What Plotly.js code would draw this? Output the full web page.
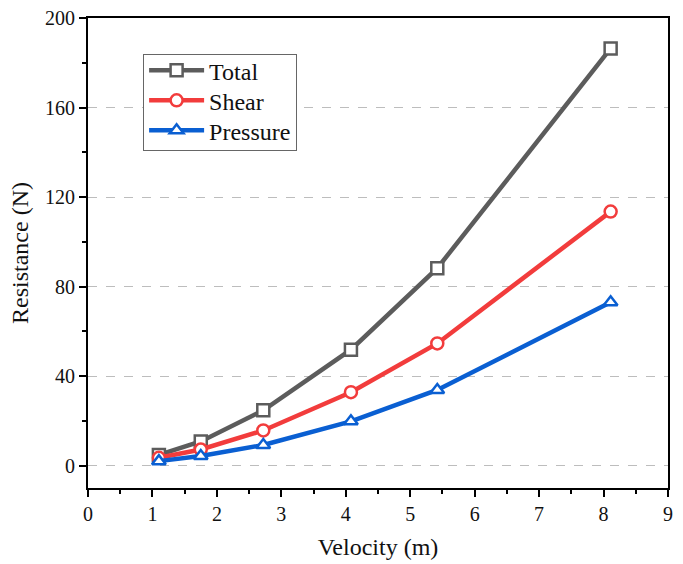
<!DOCTYPE html>
<html>
<head>
<meta charset="utf-8">
<script src="https://cdn.plot.ly/plotly-3.0.1.min.js"></script>
<style>html,body{margin:0;padding:0;background:#fff;}</style>
</head>
<body>
<div id="chart" style="width:683px;height:564px;"></div>
<script>
const velocity = [1.10, 1.75, 2.72, 4.08, 5.42, 8.11];
const totalRes = [4.8, 10.8, 24.7, 51.8, 88.2, 186.4];
const shearRes = [3.5, 7.2, 15.7, 32.8, 54.6, 113.5];
const pressureRes = [2.0, 4.3, 9.2, 19.8, 33.8, 73.0];
const seriesNames = ['Total', 'Shear', 'Pressure'];
const xTicks = [0,1,2,3,4,5,6,7,8,9];
const yTicks = [0,40,80,120,160,200];

const font = "Liberation Serif, Times New Roman, serif";
function tr(y, name, color, symbol) {
  return {
    x: velocity, y: y, name: name, type: 'scatter', mode: 'lines+markers',
    line: {color: color, width: 4.5},
    marker: {symbol: symbol, size: 12, color: '#ffffff', line: {color: color, width: 2.5}}
  };
}
const data = [
  tr(totalRes, seriesNames[0], '#5c5c5c', 'square'),
  tr(shearRes, seriesNames[1], '#f23c3c', 'circle'),
  tr(pressureRes, seriesNames[2], '#0a5fd2', 'triangle-up')
];

const layout = {
  width: 683, height: 564,
  margin: {l: 88, r: 15, t: 18, b: 76},
  paper_bgcolor: '#fff', plot_bgcolor: '#fff',
  font: {family: font, color: '#111', size: 20},
  showlegend: true,
  legend: {
    x: 0.095, y: 0.923, xanchor: 'left', yanchor: 'top',
    bordercolor: '#666', borderwidth: 1, bgcolor: '#fff',
    font: {family: font, size: 24, color: '#111'},
    itemwidth: 55, tracegroupgap: 0
  },
  xaxis: {
    range: [0, 9], tickvals: xTicks, ticktext: xTicks.map(String),
    showline: true, linecolor: '#000', linewidth: 2, mirror: true,
    ticks: 'outside', ticklen: 7, tickwidth: 2, tickcolor: '#000',
    showgrid: false, zeroline: false,
    tickfont: {family: font, size: 20},
    minor: {dtick: 0.5, ticks: 'outside', ticklen: 4, tickwidth: 2, tickcolor: '#000', showgrid: false},
    title: {text: 'Velocity (m)', font: {family: font, size: 24}, standoff: 14}
  },
  yaxis: {
    range: [-10, 200], tickvals: yTicks, ticktext: yTicks.map(String),
    showline: true, linecolor: '#000', linewidth: 2, mirror: true,
    ticks: 'outside', ticklen: 7, tickwidth: 2, tickcolor: '#000',
    showgrid: true, gridcolor: '#bdbdbd', gridwidth: 1, griddash: 'dash',
    zeroline: false,
    tickfont: {family: font, size: 20},
    minor: {dtick: 20, ticks: 'outside', ticklen: 4, tickwidth: 2, tickcolor: '#000', showgrid: false},
    title: {text: 'Resistance (N)', font: {family: font, size: 24}, standoff: 10}
  }
};
Plotly.newPlot('chart', data, layout, {displayModeBar: false, staticPlot: true}).then(function () {
  // tighten legend row spacing to match the reference (about 30 px per row)
  const rowGap = 30, lift = 7;
  const items = document.querySelectorAll('.legend .traces');
  if (!items.length) return;
  const m0 = /translate\(([-\d.]+),\s*([-\d.]+)\)/.exec(items[0].getAttribute('transform') || '');
  if (!m0) return;
  const x0 = parseFloat(m0[1]), y0 = parseFloat(m0[2]);
  let lastOld = y0;
  items.forEach(function (it, i) {
    const m = /translate\(([-\d.]+),\s*([-\d.]+)\)/.exec(it.getAttribute('transform') || '');
    if (m) lastOld = parseFloat(m[2]);
    it.setAttribute('transform', 'translate(' + x0 + ',' + (y0 - lift + i * rowGap) + ')');
  });
  const shrink = (lastOld - y0) - (items.length - 1) * rowGap;
  const bg = document.querySelector('.legend rect.bg');
  if (bg) {
    const h = parseFloat(bg.getAttribute('height'));
    bg.setAttribute('height', h - shrink - 10);
  }
});
</script>
</body>
</html>
